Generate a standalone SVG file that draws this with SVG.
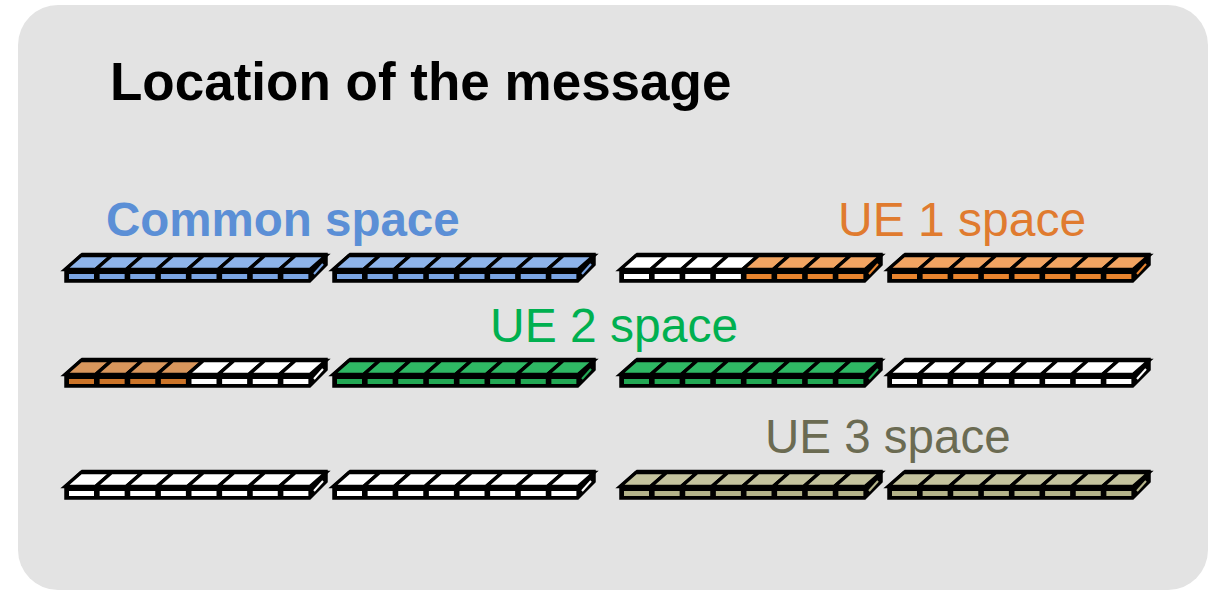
<svg xmlns="http://www.w3.org/2000/svg" xmlns:xlink="http://www.w3.org/1999/xlink" width="1208" height="590" viewBox="0 0 1208 590">
<style>
text{font-family:"Liberation Sans",Arial,sans-serif}
.base{fill:#000;stroke:#000;stroke-width:1.5;stroke-linejoin:miter}
.top{stroke:#000;stroke-width:3.5;stroke-linejoin:miter}
.blue{fill:#8eb4ea;color:#7aa4e2}
.orange{fill:#f2a462;color:#e8842e}
.brown{fill:#d8965c;color:#cc7428}
.green{fill:#2fb864;color:#22a854}
.olive{fill:#c4c39e;color:#b4b38a}
.white{fill:#ffffff;color:#ffffff}
.side{stroke-width:2;fill:none}
</style>
<defs>
<g id="cell">
<polygon class="top" points="0,16.5 16,2.5 46.625,2.5 30.625,16.5"/>
<rect x="4" y="21" width="25" height="5" fill="currentColor" stroke="none"/>
</g>
<polygon id="base" class="base" points="0,16 17,0.5 262,0.5 262,12 245,29 0,29"/>
</defs>
<rect x="18" y="5" width="1190" height="585" rx="40" ry="40" fill="#e3e3e3"/>
<g id="title"><text x="110" y="100" font-size="53" font-weight="bold" fill="#000">Location of the message</text></g>
<g id="labels">
<text x="106" y="236" font-size="47.5" font-weight="bold" fill="#5b8fd6">Common space</text>
<text x="838" y="236" font-size="48" fill="#e07b2f">UE 1 space</text>
<text x="490" y="342" font-size="48" fill="#00b050">UE 2 space</text>
<text x="765" y="453" font-size="47.5" fill="#6b6b52">UE 3 space</text>
</g>
<g id="r1b1" transform="translate(65,253)"><use xlink:href="#base"/>
<use xlink:href="#cell" x="0" class="blue"/><use xlink:href="#cell" x="30.625" class="blue"/><use xlink:href="#cell" x="61.25" class="blue"/><use xlink:href="#cell" x="91.875" class="blue"/><use xlink:href="#cell" x="122.5" class="blue"/><use xlink:href="#cell" x="153.125" class="blue"/><use xlink:href="#cell" x="183.75" class="blue"/><use xlink:href="#cell" x="214.375" class="blue"/>
<line class="side" x1="249" y1="21" x2="258" y2="11" stroke="#7aa4e2"/></g>
<g id="r1b2" transform="translate(333,253)"><use xlink:href="#base"/>
<use xlink:href="#cell" x="0" class="blue"/><use xlink:href="#cell" x="30.625" class="blue"/><use xlink:href="#cell" x="61.25" class="blue"/><use xlink:href="#cell" x="91.875" class="blue"/><use xlink:href="#cell" x="122.5" class="blue"/><use xlink:href="#cell" x="153.125" class="blue"/><use xlink:href="#cell" x="183.75" class="blue"/><use xlink:href="#cell" x="214.375" class="blue"/>
<line class="side" x1="249" y1="21" x2="258" y2="11" stroke="#7aa4e2"/></g>
<g id="r1b3" transform="translate(620,253)"><use xlink:href="#base"/>
<use xlink:href="#cell" x="0" class="white"/><use xlink:href="#cell" x="30.625" class="white"/><use xlink:href="#cell" x="61.25" class="white"/><use xlink:href="#cell" x="91.875" class="white"/><use xlink:href="#cell" x="122.5" class="orange"/><use xlink:href="#cell" x="153.125" class="orange"/><use xlink:href="#cell" x="183.75" class="orange"/><use xlink:href="#cell" x="214.375" class="orange"/>
<line class="side" x1="249" y1="21" x2="258" y2="11" stroke="#e8842e"/></g>
<g id="r1b4" transform="translate(888,253)"><use xlink:href="#base"/>
<use xlink:href="#cell" x="0" class="orange"/><use xlink:href="#cell" x="30.625" class="orange"/><use xlink:href="#cell" x="61.25" class="orange"/><use xlink:href="#cell" x="91.875" class="orange"/><use xlink:href="#cell" x="122.5" class="orange"/><use xlink:href="#cell" x="153.125" class="orange"/><use xlink:href="#cell" x="183.75" class="orange"/><use xlink:href="#cell" x="214.375" class="orange"/>
<line class="side" x1="249" y1="21" x2="258" y2="11" stroke="#e8842e"/></g>
<g id="r2b1" transform="translate(65,358)"><use xlink:href="#base"/>
<use xlink:href="#cell" x="0" class="brown"/><use xlink:href="#cell" x="30.625" class="brown"/><use xlink:href="#cell" x="61.25" class="brown"/><use xlink:href="#cell" x="91.875" class="brown"/><use xlink:href="#cell" x="122.5" class="white"/><use xlink:href="#cell" x="153.125" class="white"/><use xlink:href="#cell" x="183.75" class="white"/><use xlink:href="#cell" x="214.375" class="white"/>
<line class="side" x1="249" y1="21" x2="258" y2="11" stroke="#ffffff"/></g>
<g id="r2b2" transform="translate(333,358)"><use xlink:href="#base"/>
<use xlink:href="#cell" x="0" class="green"/><use xlink:href="#cell" x="30.625" class="green"/><use xlink:href="#cell" x="61.25" class="green"/><use xlink:href="#cell" x="91.875" class="green"/><use xlink:href="#cell" x="122.5" class="green"/><use xlink:href="#cell" x="153.125" class="green"/><use xlink:href="#cell" x="183.75" class="green"/><use xlink:href="#cell" x="214.375" class="green"/>
<line class="side" x1="249" y1="21" x2="258" y2="11" stroke="#22a854"/></g>
<g id="r2b3" transform="translate(620,358)"><use xlink:href="#base"/>
<use xlink:href="#cell" x="0" class="green"/><use xlink:href="#cell" x="30.625" class="green"/><use xlink:href="#cell" x="61.25" class="green"/><use xlink:href="#cell" x="91.875" class="green"/><use xlink:href="#cell" x="122.5" class="green"/><use xlink:href="#cell" x="153.125" class="green"/><use xlink:href="#cell" x="183.75" class="green"/><use xlink:href="#cell" x="214.375" class="green"/>
<line class="side" x1="249" y1="21" x2="258" y2="11" stroke="#22a854"/></g>
<g id="r2b4" transform="translate(888,358)"><use xlink:href="#base"/>
<use xlink:href="#cell" x="0" class="white"/><use xlink:href="#cell" x="30.625" class="white"/><use xlink:href="#cell" x="61.25" class="white"/><use xlink:href="#cell" x="91.875" class="white"/><use xlink:href="#cell" x="122.5" class="white"/><use xlink:href="#cell" x="153.125" class="white"/><use xlink:href="#cell" x="183.75" class="white"/><use xlink:href="#cell" x="214.375" class="white"/>
<line class="side" x1="249" y1="21" x2="258" y2="11" stroke="#ffffff"/></g>
<g id="r3b1" transform="translate(65,470)"><use xlink:href="#base"/>
<use xlink:href="#cell" x="0" class="white"/><use xlink:href="#cell" x="30.625" class="white"/><use xlink:href="#cell" x="61.25" class="white"/><use xlink:href="#cell" x="91.875" class="white"/><use xlink:href="#cell" x="122.5" class="white"/><use xlink:href="#cell" x="153.125" class="white"/><use xlink:href="#cell" x="183.75" class="white"/><use xlink:href="#cell" x="214.375" class="white"/>
<line class="side" x1="249" y1="21" x2="258" y2="11" stroke="#ffffff"/></g>
<g id="r3b2" transform="translate(333,470)"><use xlink:href="#base"/>
<use xlink:href="#cell" x="0" class="white"/><use xlink:href="#cell" x="30.625" class="white"/><use xlink:href="#cell" x="61.25" class="white"/><use xlink:href="#cell" x="91.875" class="white"/><use xlink:href="#cell" x="122.5" class="white"/><use xlink:href="#cell" x="153.125" class="white"/><use xlink:href="#cell" x="183.75" class="white"/><use xlink:href="#cell" x="214.375" class="white"/>
<line class="side" x1="249" y1="21" x2="258" y2="11" stroke="#ffffff"/></g>
<g id="r3b3" transform="translate(620,470)"><use xlink:href="#base"/>
<use xlink:href="#cell" x="0" class="olive"/><use xlink:href="#cell" x="30.625" class="olive"/><use xlink:href="#cell" x="61.25" class="olive"/><use xlink:href="#cell" x="91.875" class="olive"/><use xlink:href="#cell" x="122.5" class="olive"/><use xlink:href="#cell" x="153.125" class="olive"/><use xlink:href="#cell" x="183.75" class="olive"/><use xlink:href="#cell" x="214.375" class="olive"/>
<line class="side" x1="249" y1="21" x2="258" y2="11" stroke="#b4b38a"/></g>
<g id="r3b4" transform="translate(888,470)"><use xlink:href="#base"/>
<use xlink:href="#cell" x="0" class="olive"/><use xlink:href="#cell" x="30.625" class="olive"/><use xlink:href="#cell" x="61.25" class="olive"/><use xlink:href="#cell" x="91.875" class="olive"/><use xlink:href="#cell" x="122.5" class="olive"/><use xlink:href="#cell" x="153.125" class="olive"/><use xlink:href="#cell" x="183.75" class="olive"/><use xlink:href="#cell" x="214.375" class="olive"/>
<line class="side" x1="249" y1="21" x2="258" y2="11" stroke="#b4b38a"/></g>
</svg>
